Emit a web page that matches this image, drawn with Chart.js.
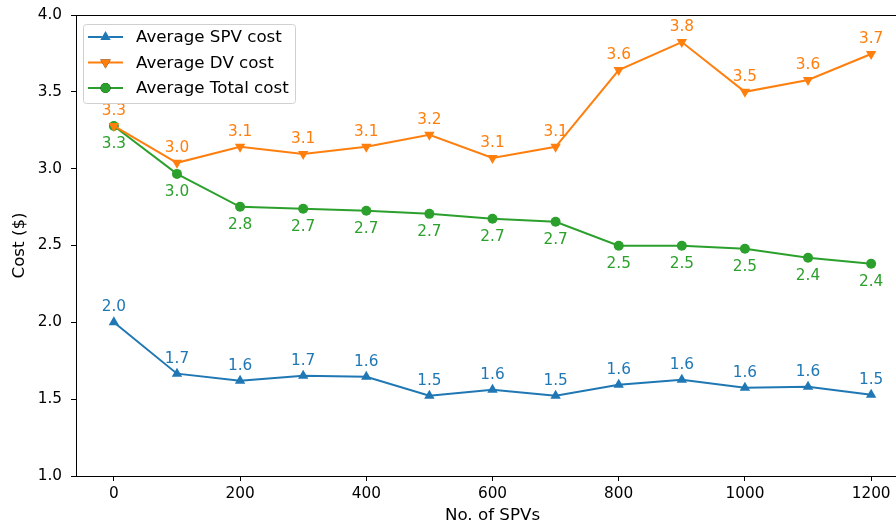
<!DOCTYPE html>
<html>
<head>
<meta charset="utf-8">
<script src="https://cdn.jsdelivr.net/npm/chart.js@4"></script>
<style>
  html, body { margin: 0; padding: 0; overflow: hidden; background: #fff; }
  #wrap { width: 920px; height: 527px; position: relative; }
</style>
</head>
<body>
<div id="wrap"><canvas id="costChart"></canvas></div>
<script>
const spvCounts = [0, 100, 200, 300, 400, 500, 600, 700, 800, 900, 1000, 1100, 1200];
const spvCost = [2.0, 1.666, 1.62, 1.653, 1.646, 1.523, 1.562, 1.523, 1.594, 1.627, 1.575, 1.581, 1.529];
const dvCost = [3.278, 3.038, 3.142, 3.096, 3.142, 3.22, 3.07, 3.142, 3.642, 3.824, 3.5, 3.577, 3.746];
const totalCost = [3.278, 2.966, 2.752, 2.739, 2.726, 2.706, 2.674, 2.654, 2.498, 2.498, 2.479, 2.42, 2.381];
const xTicks = [0, 200, 400, 600, 800, 1000, 1200];

const FONT = 'DejaVu Sans';
const TICK_PX = 15.3;
const BIG_PX = 16.7;

function pts(values) {
    return spvCounts.map((x, i) => ({ x: x, y: values[i] }));
}

// value labels next to each point
const pointLabels = {
    id: 'pointLabels',
    afterDatasetsDraw(chart) {
        const ctx = chart.ctx;
        ctx.save();
        ctx.font = TICK_PX + 'px "' + FONT + '"';
        ctx.textAlign = 'center';
        ctx.textBaseline = 'middle';
        chart.data.datasets.forEach((ds, di) => {
            const meta = chart.getDatasetMeta(di);
            ctx.fillStyle = ds.borderColor;
            meta.data.forEach((el, i) => {
                ctx.fillText(ds.data[i].y.toFixed(1), el.x, el.y + ds.labelOffset);
            });
        });
        ctx.restore();
    }
};

// full box round the plot
const frame = {
    id: 'frame',
    afterDraw(chart) {
        const a = chart.chartArea;
        const ctx = chart.ctx;
        ctx.save();
        ctx.strokeStyle = '#000';
        ctx.lineWidth = 1;
        ctx.strokeRect(Math.round(a.left) + 0.5, Math.round(a.top) + 0.5,
            Math.round(a.right - a.left), Math.round(a.bottom - a.top));
        ctx.restore();
    }
};

// legend drawn inside the axes, upper left
const innerLegend = {
    id: 'innerLegend',
    afterDraw(chart) {
        const ctx = chart.ctx;
        const a = chart.chartArea;
        const x0 = a.left + 7, y0 = a.top + 9;
        ctx.save();
        ctx.fillStyle = 'rgba(255,255,255,0.8)';
        ctx.strokeStyle = '#d0d0d0';
        ctx.lineWidth = 1;
        ctx.beginPath();
        ctx.roundRect(x0 + 0.5, y0 + 0.5, 212, 79, 3);
        ctx.fill();
        ctx.stroke();
        ctx.font = BIG_PX + 'px "' + FONT + '"';
        ctx.textBaseline = 'middle';
        chart.data.datasets.forEach((ds, i) => {
            const y = y0 + 13 + i * 25.5;
            ctx.strokeStyle = ds.borderColor;
            ctx.lineWidth = 2;
            ctx.beginPath();
            ctx.moveTo(x0 + 5, y);
            ctx.lineTo(x0 + 40, y);
            ctx.stroke();
            Chart.helpers.drawPoint(ctx, {
                pointStyle: ds.pointStyle,
                radius: ds.pointRadius,
                rotation: ds.pointRotation || 0,
                borderWidth: 0
            }, x0 + 22.5, y);
            ctx.fillStyle = ds.borderColor;
            ctx.fill();
            ctx.fillStyle = '#000';
            ctx.fillText(ds.label, x0 + 53, y + 1);
        });
        ctx.restore();
    }
};

const ctx = document.getElementById('costChart').getContext('2d');
new Chart(ctx, {
    type: 'line',
    data: {
        datasets: [
            {
                label: 'Average SPV cost',
                data: pts(spvCost),
                borderColor: '#1f77b4',
                backgroundColor: '#1f77b4',
                borderWidth: 2,
                pointStyle: 'triangle',
                pointRadius: 6,
                pointBorderWidth: 0,
                labelOffset: -15,
                tension: 0
            },
            {
                label: 'Average DV cost',
                data: pts(dvCost),
                borderColor: '#ff7f0e',
                backgroundColor: '#ff7f0e',
                borderWidth: 2,
                pointStyle: 'triangle',
                pointRotation: 180,
                pointRadius: 6,
                pointBorderWidth: 0,
                labelOffset: -15,
                tension: 0
            },
            {
                label: 'Average Total cost',
                data: pts(totalCost),
                borderColor: '#2ca02c',
                backgroundColor: '#2ca02c',
                borderWidth: 2,
                pointStyle: 'circle',
                pointRadius: 5,
                pointBorderWidth: 0,
                labelOffset: 18,
                tension: 0
            }
        ]
    },
    options: {
        responsive: true,
        maintainAspectRatio: false,
        animation: false,
        layout: { padding: { top: 15, right: 11, left: 0, bottom: 0 } },
        plugins: { legend: { display: false }, tooltip: { enabled: false } },
        scales: {
            x: {
                type: 'linear',
                min: -60,
                max: 1260,
                afterBuildTicks: (scale) => { scale.ticks = xTicks.map(v => ({ value: v })); },
                afterFit: (scale) => { scale.height = 51; scale.paddingLeft = 0; scale.paddingRight = 0; },
                border: { display: false },
                grid: { drawOnChartArea: false, drawTicks: true, tickLength: 5, color: '#000' },
                ticks: { color: '#000', font: { family: FONT, size: TICK_PX }, padding: 4, maxRotation: 0,
                    callback: (v) => String(v) },
                title: { display: true, text: 'No. of SPVs', color: '#000', font: { family: FONT, size: BIG_PX }, padding: { top: 0, bottom: 1 } }
            },
            y: {
                min: 1,
                max: 4,
                afterFit: (scale) => { scale.width = 76; scale.paddingTop = 0; scale.paddingBottom = 0; },
                border: { display: false },
                grid: { drawOnChartArea: false, drawTicks: true, tickLength: 5, color: '#000' },
                ticks: { stepSize: 0.5, color: '#000', font: { family: FONT, size: TICK_PX }, padding: 9,
                    callback: (v) => Number(v).toFixed(1) },
                title: { display: true, text: 'Cost ($)', color: '#000', font: { family: FONT, size: BIG_PX }, padding: { top: 10, bottom: 0 } }
            }
        }
    },
    plugins: [pointLabels, frame, innerLegend]
});
</script>
</body>
</html>
